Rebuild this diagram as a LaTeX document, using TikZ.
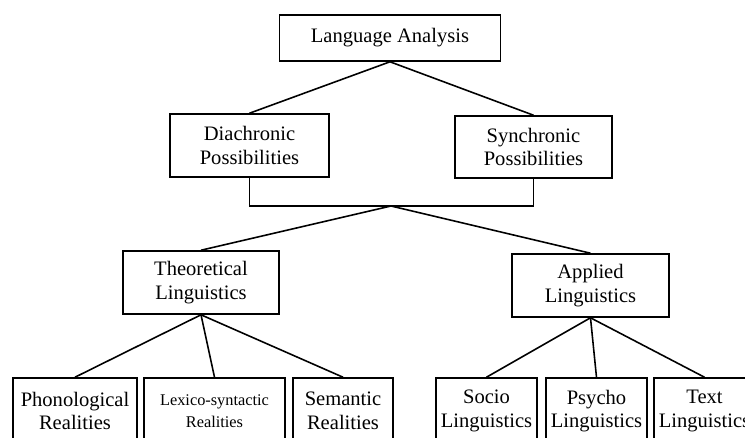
\documentclass[tikz,border=0pt]{standalone}
\usepackage{fontspec}
\setmainfont{Liberation Serif}
\usepackage{tikz}
\tikzset{box/.style={draw, line width=0.9pt, align=center, inner sep=0pt,
    font=\fontsize{11.7}{13.5}\selectfont},
  link/.style={line width=0.9pt}}

\begin{document}
\begin{tikzpicture}[x=0.02cm,y=-0.02cm]
        \useasboundingbox (0,0) rectangle (745,437);
        \clip (0,0) rectangle (745,437);
        \node[box, minimum width=4.42cm, minimum height=0.92cm] (lang) at (390,38) {Language Analysis};
        \node[box, minimum width=3.18cm, minimum height=1.26cm] (dia) at (249.5,145.5) {Diachronic\\Possibilities};
        \node[box, minimum width=3.14cm, minimum height=1.24cm] (syn) at (533.5,147) {Synchronic\\Possibilities};
        \coordinate (join) at (391,206);
        \node[box, minimum width=3.12cm, minimum height=1.26cm] (theo) at (201,282.5) {Theoretical\\Linguistics};
        \node[box, minimum width=3.14cm, minimum height=1.26cm] (app) at (590.5,285.5) {Applied\\Linguistics};
        \node[box, minimum width=2.48cm, minimum height=1.32cm] (phon) at (75,411) {Phonological\\Realities};
        \node[box, minimum width=2.82cm, minimum height=1.32cm, font=\fontsize{9.3}{12.5}\selectfont] (lex) at (214.5,411) {Lexico-syntactic\\Realities};
        \node[box, minimum width=2.00cm, minimum height=1.32cm] (sem) at (343,411) {Semantic\\Realities};
        \node[box, minimum width=2.02cm, minimum height=1.32cm] (soc) at (486.5,411) {Socio\\Linguistics};
        \node[box, minimum width=2.02cm, minimum height=1.32cm] (psy) at (596.5,411) {Psycho\\Linguistics};
        \node[box, minimum width=2.02cm, minimum height=1.32cm] (txt) at (704.5,411) {Text\\Linguistics};
        \draw[link] (lang.south) -- (dia.north);
        \draw[link] (lang.south) -- (syn.north);
        \draw[link] (dia.south) |- (join) -| (syn.south);
        \draw[link] (join) -- (theo.north);
        \draw[link] (join) -- (app.north);
        \draw[link] (theo.south) -- (phon.north);
        \draw[link] (theo.south) -- (lex.north);
        \draw[link] (theo.south) -- (sem.north);
        \draw[link] (app.south) -- (soc.north);
        \draw[link] (app.south) -- (psy.north);
        \draw[link] (app.south) -- (txt.north);
      \end{tikzpicture}
\end{document}
